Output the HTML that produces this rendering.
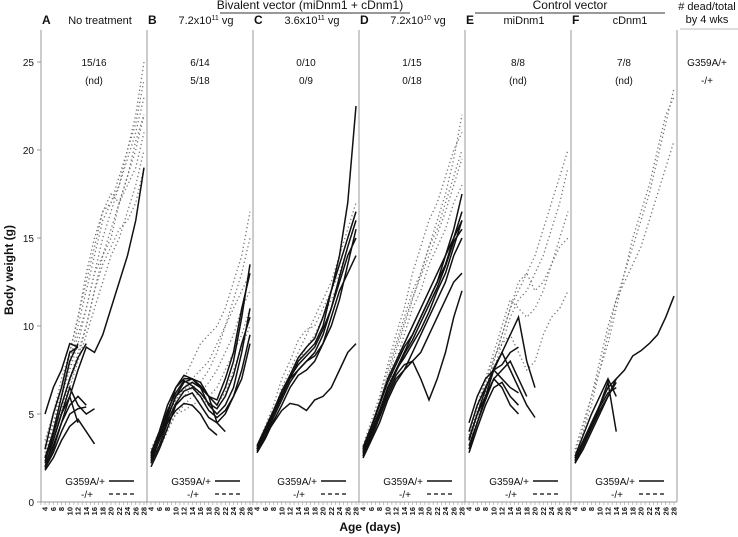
<!DOCTYPE html>
<html><head><meta charset="utf-8"><style>
body{margin:0;background:#fff;}
svg{display:block;font-family:"Liberation Sans",sans-serif;}
</style></head><body>
<svg id="chart" width="738" height="537"></svg>
<script>
const days=[4,6,8,10,12,14,16,18,20,22,24,26,28];
const yTicks=[0,5,10,15,20,25];
const xTickLabels=[4,6,8,10,12,14,16,18,20,22,24,26,28];
const panelLetters=["A","B","C","D","E","F"];
const panelTitles=["No treatment","7.2x10^11 vg","3.6x10^11 vg","7.2x10^10 vg","miDnm1","cDnm1"];
const countsMut=["15/16","6/14","0/10","1/15","8/8","7/8"];
const countsHet=["(nd)","5/18","0/9","0/18","(nd)","(nd)"];
const dottedA=[[3,4.5,6,7.5,9,11,13,15,16.5,18,19.5,21,23],[2.8,4,5.5,7,8.5,10,12,14,15.5,17,18.5,20,22],[3.2,5,6.5,8,10,12,14,16,17,18,20,22,25],[2.5,4,5,6.5,8,9.5,11,12.5,14,15,16.5,18,20],[3,4.2,6,7.8,9.5,11,13,14,15,17,18,19,21],[2.6,3.8,5.2,6.8,8.2,10,12,13.5,14.5,15.5,16,17,19],[3.5,5,7,8.5,10.5,12.5,14.5,16.5,17,18.5,20,21.5,24],[3,4.5,6.5,8.5,10.5,13,15,16.5,17.5,17,18.5,20.5,22]];
const solidA=[[2,3,4.5,6,7.5,8.8,8.5,9.5,11,12.5,14,16,19],[2.5,4,6,8,9],[2,3.5,5,6.5,5.5,5,5.3],[1.8,2.5,3.5,4.3,4.7,4,3.3],[3,5,6.5,8.5,8.8],[2.2,3.2,4.5,5.5,6,5.5],[2.5,3.5,5,6,4.5],[5,6.5,7.5,9,8.8],[2.3,3.8,5.5,7,8.2,9],[1.9,2.8,4,5,5.3,5.4]];
const dottedB=[[2.5,3.5,4.5,5.5,6,6.5,6.8,7.5,8.5,10,11.5,13,15],[2.8,3.8,5,5.8,6.5,7,7.5,8,9,10,11,12,13],[2.2,3,4,5,5.5,6,6.2,6.8,7.5,8.5,9.5,11,12],[3,4,5.2,6.5,7,8,9,9.5,10,11,12.5,14,16.5],[2.5,3.2,4.2,5,5.2,5.5,5.8,6,6.5,7.5,8.5,9.5,11],[2.6,3.6,4.8,5.8,6.4,6.6,6,5.5,5.6,6.2,7.5,8.8,10]];
const solidB=[[2.3,3.5,4.8,6,6.5,6.8,6.5,6,5.5,6.5,8,10.5,13.5],[2.5,3.8,5,6.5,7,7,6.5,5.5,5,5.5,6.5,8.5,11],[2,3,4.2,5.5,6,6.2,5.5,4.8,4.5,5,6,7.5,9.5],[2.8,4,5.5,6.5,7.2,7,6.8,6,4.5,4],[2.2,3.2,4.5,5.2,5.6,5.5,5,4.2,3.8],[2.6,3.6,4.8,6,6.8,7,6.6,6,5.8,7,8.5,11,13],[2.4,3.5,4.6,5.6,6.3,6.5,6,5.2,4.8,5.2,6,7,9],[2.7,3.9,5.2,6.2,6.9,6.6,6.2,5.6,5.3,6,7.2,9,10.5]];
const dottedC=[[3,4,5,6.5,7.5,8.5,9.5,10.5,11.5,12.5,14,15.5,17],[3.2,4.3,5.5,7,8,9.2,9.8,10,11,12,13,14.5,16],[2.8,3.8,5,6.2,7.2,8,8.8,9.5,10.5,11.5,12.5,14,15]];
const solidC=[[3,4,5,6,7,8,8.5,9,10,12,14,17,22.5],[3,3.8,5,6,7,7.5,8,8.5,9.5,11,12.5,14,15],[2.8,3.6,4.6,5.5,6.5,7.2,7.5,8,9,10.5,12,13,14],[3.2,4.2,5.2,6.3,7.2,8.2,8.8,9.3,10.5,12,13.5,15,16.5],[3,3.8,4.5,5.2,5.6,5.5,5.2,5.8,6,6.5,7.5,8.5,9],[2.9,3.7,4.8,5.8,6.8,7.5,8,8.3,9,10,11.5,13.5,15.5],[3.1,4.1,5.1,6.1,7.1,7.8,8.3,8.8,9.8,11,12.8,14.5,16]];
const dottedD=[[2.8,4,5.5,7,8.5,10,11.5,13,14.5,16,17.5,19.5,22],[3,4.2,5.8,7.5,9,10.5,12,13,14.5,15.5,17,18.5,20],[2.6,3.8,5,6.5,8,9.5,11,12,13.5,14.5,15.5,17,18],[3.2,4.6,6,7.8,9.5,11,13,14.5,16,17,18.5,20,21],[2.9,4.2,5.6,7.2,8.8,10.2,11.6,12.8,14,15.2,16.5,18,19.5]];
const solidD=[[2.6,3.8,5,6.5,7.5,8.5,9.5,10.5,11.5,12.5,14,15.5,17.5],[2.8,4,5.2,6.5,7.5,8.2,9,9.8,10.8,12,13,14.5,16],[3,4.2,5.5,6.8,7.8,8.8,9.5,10.5,11.5,12.5,13.5,15,16.5],[2.7,3.6,4.8,6,7,7.5,8,8.5,9.5,10.5,11.5,12.5,13],[2.9,4,5,6.2,7.2,7.8,8,7,5.8,7,8.5,10.5,12],[3.1,4.3,5.6,7,8,9,10,11,12,13,14,15,16],[2.5,3.5,4.5,5.8,6.8,7.5,8.5,9.5,10.5,11.5,12.5,14,15],[2.8,3.9,5.1,6.4,7.4,8.4,9.2,10.2,11.2,12.2,13.4,14.8,15.5]];
const dottedE=[[3.5,5,6.5,8,9.5,11,12,13,14,15.5,17,18.5,20],[3,4.5,6,7.5,9,10.5,11.5,12,13,14,15.5,17,19],[3.2,4.8,6.2,8,9.5,11,12.5,13,12,12.5,13.5,14.5,15],[4,5.5,7,8.5,10,11.5,11,10.5,11,12,13.5,15,16.5],[3.8,5.2,6.8,8.2,9,9.5,8.5,7.5,8,9.5,10.5,11,12]];
const solidE=[[3,4.5,6,7.5,8.5,9.5,10.5,8,6.5],[3.5,5,6,7,7.5,8,7,6],[4,5.5,6.5,7.5,7,6.5,6.2],[2.8,4.2,5.5,6.5,6.8,6,5.5],[3.2,4.5,5.8,7,6.5,5.5,5],[4.5,6,7,7.5,7.8,8.5,8.8],[3.6,5,6.4,7.6,8.5,7.5,6.5,5.5,4.8]];
const dottedF=[[2.5,4,5.5,7.5,9.5,11.5,13,14.5,16,17.5,19.5,21.5,23.5],[2.8,4.2,6,8,10,11.5,12.5,13.5,14.5,16,17.5,19,20.5],[3,4.5,6,7.5,9,11,13,15,16.5,18,20,22,23]];
const solidF=[[2.2,3,4,5,6,7,7.5,8.3,8.6,9,9.5,10.5,11.7],[2.5,3.5,4.5,5.5,6.5,7],[2.3,3.2,4.2,5.2,6,6.8],[2.6,3.8,5,6,7,6],[2.4,3.4,4.4,5.5,6.8,4],[2.2,3.2,4.3,5.4,6.2,6.5]];
const dottedAll=[dottedA,dottedB,dottedC,dottedD,dottedE,dottedF];
const solidAll=[solidA,solidB,solidC,solidD,solidE,solidF];

const NS="http://www.w3.org/2000/svg";
const svg=document.getElementById("chart");
const PW=106, P0=41, TOP=30, Y0=502, Y25=62;
function yS(v){return Y0-(v/25)*(Y0-Y25);}
function xS(p,d){return P0+p*PW+4+(d-4)*(99/24);}
function el(tag,attrs,parent){const e=document.createElementNS(NS,tag);for(const k in attrs)e.setAttribute(k,attrs[k]);(parent||svg).appendChild(e);return e;}
function txt(x,y,s,size,anchor,weight,parent){const t=el("text",{x:x,y:y,"font-size":size,"text-anchor":anchor||"middle","font-weight":weight||"normal",fill:"#111"},parent);t.textContent=s;return t;}

const yAxis=el("g",{});


el("line",{x1:P0,y1:TOP,x2:P0,y2:Y0,stroke:"#999"},yAxis);
yTicks.forEach(v=>{el("line",{x1:P0-4,x2:P0,y1:yS(v),y2:yS(v),stroke:"#999"},yAxis);txt(P0-7,yS(v)+4,String(v),10,"end","normal",yAxis);});
const yt=txt(13,270,"Body weight (g)",12,"middle","bold");
yt.setAttribute("transform","rotate(-90 13 270)");


const xt=txt(370,531,"Age (days)",12,"middle","bold");



for(let p=0;p<6;p++){
  const g=el("g",{});
  
  
  const L=P0+p*PW;
  el("line",{x1:L+PW,y1:TOP,x2:L+PW,y2:Y0,stroke:"#999"},g);
  el("line",{x1:L,y1:Y0,x2:L+PW,y2:Y0,stroke:"#999"},g);
  txt(L+1,24,panelLetters[p],12,"start","bold",g);
  const tt=el("text",{x:L+PW/2+6,y:24,"font-size":11,"text-anchor":"middle",fill:"#111"},g);
  const parts=panelTitles[p].split("^");
  if(parts.length>1){const m=parts[1].split(" ");tt.textContent=parts[0];const s=el("tspan",{dy:-4,"font-size":7},tt);s.textContent=m[0];const r=el("tspan",{dy:4},tt);r.textContent=" "+m[1];}
  else tt.textContent=panelTitles[p];
  
  
  txt(L+PW/2,66,countsMut[p],10,"middle","normal",g);
  txt(L+PW/2,84,countsHet[p],10,"middle","normal",g);
  for(let d=3;d<=28;d++){el("line",{x1:xS(p,d),x2:xS(p,d),y1:Y0,y2:Y0+3,stroke:"#999","stroke-width":0.6},g);}
  xTickLabels.forEach(d=>{const t=txt(0,0,String(d),7.5,"end","bold",g);t.setAttribute("transform","translate("+(xS(p,d)+2.5)+","+(Y0+5)+") rotate(-90)");});
  dottedAll[p].forEach(s=>{
    const pts=s.map((v,i)=>xS(p,days[i])+","+yS(v)).join(" ");
    const l=el("polyline",{points:pts,fill:"none",stroke:"#777","stroke-width":1.3,"stroke-dasharray":"1.3 2.7"},g);
    
    
  });
  solidAll[p].forEach(s=>{
    const pts=s.map((v,i)=>xS(p,days[i])+","+yS(v)).join(" ");
    const l=el("polyline",{points:pts,fill:"none",stroke:"#111","stroke-width":1.5},g);
    
    
  });
  const lg=el("g",{},g);
  
  
  txt(L+64,485,"G359A/+",10,"end","normal",lg);
  el("line",{x1:L+68,x2:L+93,y1:481,y2:481,stroke:"#111","stroke-width":1.5},lg);
  txt(L+52,498,"-/+",10,"end","normal",lg);
  el("line",{x1:L+68,x2:L+93,y1:494,y2:494,stroke:"#333","stroke-width":1.5,"stroke-dasharray":"4 3"},lg);
}
const bh=txt(310,9,"Bivalent vector  (miDnm1 + cDnm1)",12,"middle","normal");


el("line",{x1:220,x2:410,y1:13,y2:13,stroke:"#333"});
const ch=txt(570,9,"Control vector",12,"middle","normal");


el("line",{x1:475,x2:665,y1:13,y2:13,stroke:"#333"});
const rg=el("g",{});


txt(707,10,"# dead/total",11,"middle","normal",rg);
txt(707,23,"by 4 wks",11,"middle","normal",rg);
el("line",{x1:680,x2:738,y1:29,y2:29,stroke:"#bbb"},rg);
txt(707,66,"G359A/+",10,"middle","normal",rg);
txt(707,84,"-/+",10,"middle","normal",rg);
</script>
</body></html>
